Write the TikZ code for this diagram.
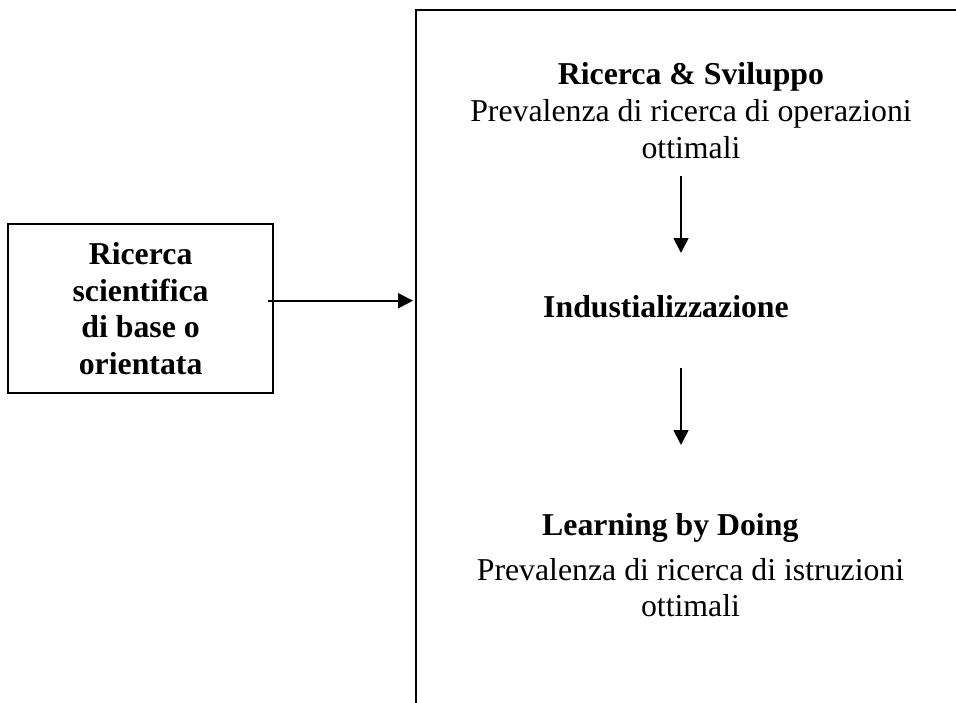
\documentclass[tikz,border=0pt]{standalone}
\usepackage{fontspec}
\setmainfont{Liberation Serif}
\usetikzlibrary{arrows.meta}
\begin{document}
\begin{tikzpicture}[x=1pt,y=-1pt,
  txt/.style={font=\fontsize{31.8}{36.7}\selectfont, inner sep=0pt, align=center},
  boldtxt/.style={font=\fontsize{31.8}{36.5}\selectfont\bfseries, align=center},
  frame/.style={draw=black, line width=2.2pt},
  link/.style={draw=black, line width=1.8pt, -{Triangle[length=15pt,width=15pt]}}]
\useasboundingbox (0,0) rectangle (956,702);
\clip (0,0) rectangle (956,702);

% open-ended stage frame (only left and top edges fall inside the page)
\node[frame, anchor=north west, minimum width=620pt, minimum height=760pt, inner sep=0pt] (stage) at (415,9) {};

% basic research box
\node[frame, boldtxt, minimum width=265pt, minimum height=169pt, inner sep=0pt] (base) at (140.6,308.8)
  {Ricerca\\scientifica\\di base o\\orientata};

% stages inside the frame (base anchor sits on the last line)
\node[txt, anchor=base] (rs) at (691,158)
  {\textbf{Ricerca \& Sviluppo}\\Prevalenza di ricerca di operazioni\\ottimali};
\node[txt, anchor=base west, font=\fontsize{31.8}{36.7}\selectfont\bfseries] (ind) at (543,317) {Industializzazione};
\node[txt, anchor=base west, font=\fontsize{31.8}{36.7}\selectfont\bfseries] (lbdhead) at (542,535) {Learning by Doing};
\node[txt, anchor=base] (lbd) at (690.5,616.7)
  {Prevalenza di ricerca di istruzioni\\ottimali};

% connectors
\coordinate (h0) at (268,300.7);
\coordinate (v1a) at (681,176);
\coordinate (v1b) at (681,253);
\coordinate (v2a) at (681,368);
\coordinate (v2b) at (681,445);
\draw[link, shorten >=2pt] (h0) -- (h0 -| stage.west);
\draw[link] (v1a) -- (v1b);
\draw[link] (v2a) -- (v2b);
\end{tikzpicture}
\end{document}
